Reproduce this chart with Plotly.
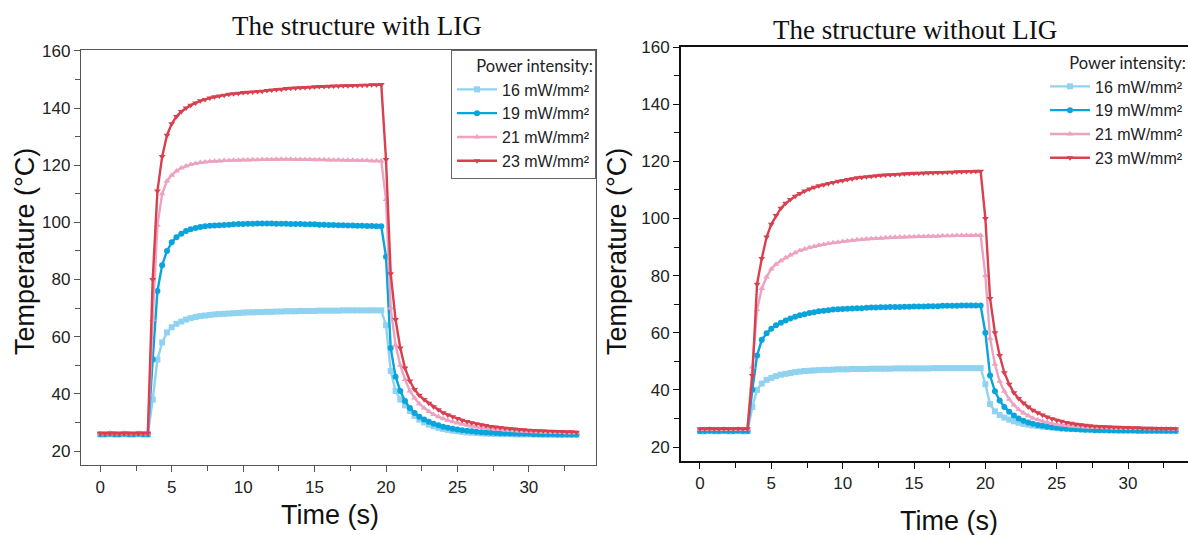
import plotly.graph_objects as go

# Sample instants (s), ~3 Hz thermal camera recording
TIME_S = [
    0.0, 0.33, 0.67, 1.0, 1.33, 1.67, 2.0, 2.33, 2.67, 3.0, 3.33, 3.67,
    4.0, 4.33, 4.67, 5.0, 5.33, 5.67, 6.0, 6.33, 6.67, 7.0, 7.33, 7.67,
    8.0, 8.33, 8.67, 9.0, 9.33, 9.67, 10.0, 10.33, 10.67, 11.0, 11.33, 11.67,
    12.0, 12.33, 12.67, 13.0, 13.33, 13.67, 14.0, 14.33, 14.67, 15.0, 15.33, 15.67,
    16.0, 16.33, 16.67, 17.0, 17.33, 17.67, 18.0, 18.33, 18.67, 19.0, 19.33, 19.67,
    20.0, 20.33, 20.67, 21.0, 21.33, 21.67, 22.0, 22.33, 22.67, 23.0, 23.33, 23.67,
    24.0, 24.33, 24.67, 25.0, 25.33, 25.67, 26.0, 26.33, 26.67, 27.0, 27.33, 27.67,
    28.0, 28.33, 28.67, 29.0, 29.33, 29.67, 30.0, 30.33, 30.67, 31.0, 31.33, 31.67,
    32.0, 32.33, 32.67, 33.0, 33.33,
]

LABELS = ["16 mW/mm²", "19 mW/mm²", "21 mW/mm²", "23 mW/mm²"]

# ---- The structure with LIG: temperature (°C) ----
LIG_16 = [
    25.8, 25.8, 25.9, 25.8, 25.8, 25.9, 25.8, 25.8, 25.9, 25.8, 25.8,
    38, 52, 58, 61.5, 63.3, 64.5, 65.3, 66.0, 66.5, 66.9, 67.2, 67.4, 67.6, 67.8, 67.9,
    68.0, 68.1, 68.2, 68.3, 68.4, 68.5, 68.5, 68.6, 68.6, 68.7, 68.7, 68.8, 68.8, 68.9, 68.9,
    68.9, 69.0, 69.0, 69.0, 69.0, 69.1, 69.1, 69.1, 69.1, 69.1,
    69.2, 69.2, 69.2, 69.2, 69.2, 69.2, 69.2, 69.2, 69.2,
    64, 48, 41, 38, 36, 34, 32.3, 31, 30, 29.2, 28.6, 28.1, 27.7, 27.4, 27.1,
    26.9, 26.7, 26.5, 26.4, 26.3, 26.2, 26.1, 26.0, 26.0, 25.9, 25.9, 25.9, 25.8, 25.8, 25.8,
    25.8, 25.8, 25.8, 25.7, 25.7, 25.7, 25.7, 25.7, 25.7, 25.7, 25.7,
]
LIG_19 = [
    25.9, 25.9, 26.0, 25.9, 25.9, 26.0, 25.9, 25.9, 26.0, 25.9, 25.9,
    52, 76, 85, 90, 93, 94.8, 96, 97, 97.6, 98, 98.4, 98.6, 98.8, 98.9, 99.0,
    99.1, 99.2, 99.3, 99.4, 99.4, 99.5, 99.5, 99.6, 99.6, 99.6, 99.6, 99.5, 99.5, 99.5, 99.4,
    99.4, 99.4, 99.3, 99.3, 99.3, 99.2, 99.2, 99.1, 99.1, 99.0,
    99.0, 98.9, 98.9, 98.8, 98.8, 98.7, 98.7, 98.6, 98.6,
    88, 56, 46, 41, 37.5, 35, 33.3, 32, 31, 30.2, 29.5, 29.0, 28.5, 28.1, 27.8,
    27.5, 27.3, 27.1, 26.9, 26.7, 26.6, 26.5, 26.4, 26.3, 26.2, 26.2, 26.1, 26.1, 26.0, 26.0,
    26.0, 25.9, 25.9, 25.9, 25.9, 25.9, 25.8, 25.8, 25.8, 25.8, 25.8,
]
LIG_21 = [
    26.0, 26.0, 26.1, 26.0, 26.0, 26.1, 26.0, 26.0, 26.1, 26.0, 26.0,
    66, 99, 110, 114.5, 116.5, 118, 119, 119.7, 120.2, 120.6, 120.9, 121.1, 121.3, 121.4, 121.5,
    121.6, 121.6, 121.7, 121.7, 121.8, 121.8, 121.9, 121.9, 122.0, 122.0,
    122.0, 122.1, 122.1, 122.1, 122.1, 122.0, 122.0, 122.0, 122.0, 121.9,
    121.9, 121.9, 121.8, 121.8, 121.8, 121.7, 121.7, 121.7, 121.6, 121.6,
    121.6, 121.5, 121.5, 121.5,
    108, 70, 57, 50, 45, 41, 38.5, 36.5, 35, 33.8, 32.8, 32.0, 31.3, 30.7, 30.2,
    29.8, 29.4, 29.0, 28.7, 28.4, 28.2, 28.0, 27.8, 27.6, 27.5, 27.3, 27.2, 27.1, 27.0, 26.9,
    26.8, 26.7, 26.7, 26.6, 26.6, 26.5, 26.5, 26.5, 26.4, 26.4, 26.4,
]
LIG_23 = [
    26.2, 26.1, 26.2, 26.2, 26.1, 26.2, 26.2, 26.1, 26.2, 26.2, 26.2,
    80, 111, 123, 130.5, 134.5, 137, 138.8, 140, 141, 141.8, 142.5, 143, 143.5, 143.9, 144.2,
    144.5, 144.8, 145.0, 145.2, 145.4, 145.5, 145.6, 145.8, 145.9, 146.1,
    146.3, 146.5, 146.6, 146.8, 146.9, 147.0, 147.1, 147.2, 147.3, 147.4,
    147.5, 147.5, 147.6, 147.7, 147.7, 147.8, 147.8, 147.9, 147.9, 148.0,
    148.0, 148.1, 148.1, 148.2,
    122, 82, 66, 56, 49, 44.5, 41.5, 39.5, 38, 36.7, 35.5, 34.4, 33.4, 32.6, 32.0,
    31.4, 30.8, 30.3, 29.9, 29.5, 29.2, 28.9, 28.6, 28.4, 28.2, 28.0, 27.8, 27.7, 27.5, 27.4,
    27.3, 27.2, 27.1, 27.0, 26.9, 26.9, 26.8, 26.8, 26.7, 26.7, 26.6,
]

# ---- The structure without LIG: temperature (°C) ----
NOLIG_16 = [
    25.5, 25.5, 25.6, 25.5, 25.5, 25.6, 25.5, 25.5, 25.6, 25.5, 25.5,
    34, 40, 42.2, 43.5, 44.2, 44.8, 45.3, 45.6, 45.9, 46.2, 46.4, 46.6, 46.7, 46.8, 46.9,
    47.0, 47.0, 47.1, 47.2, 47.2, 47.2, 47.3, 47.3, 47.3, 47.3,
    47.4, 47.4, 47.4, 47.4, 47.4, 47.5, 47.5, 47.5, 47.5, 47.5,
    47.5, 47.5, 47.5, 47.6, 47.6, 47.6, 47.6, 47.6, 47.6, 47.6,
    47.6, 47.6, 47.6, 47.6,
    42, 35, 32.5, 31.2, 30.3, 29.6, 29.0, 28.5, 28.1, 27.8, 27.5, 27.3, 27.1, 27.0, 26.8,
    26.7, 26.6, 26.5, 26.4, 26.3, 26.2, 26.1, 26.1, 26.0, 26.0, 25.9, 25.9, 25.9, 25.8, 25.8,
    25.8, 25.8, 25.7, 25.7, 25.7, 25.7, 25.7, 25.7, 25.6, 25.6, 25.6,
]
NOLIG_19 = [
    25.6, 25.6, 25.7, 25.6, 25.6, 25.7, 25.6, 25.6, 25.7, 25.6, 25.6,
    40, 52, 57.5, 59.8, 61.4, 62.6, 63.5, 64.3, 65.0, 65.6, 66.1, 66.5, 66.9, 67.2, 67.5,
    67.7, 67.9, 68.1, 68.2, 68.3, 68.4, 68.5, 68.6, 68.6, 68.7,
    68.8, 68.8, 68.9, 68.9, 69.0, 69.0, 69.0, 69.1, 69.1, 69.2,
    69.2, 69.2, 69.3, 69.3, 69.3, 69.4, 69.4, 69.4, 69.4, 69.5,
    69.5, 69.5, 69.5, 69.5,
    60, 45, 39.5, 36.3, 34, 32.3, 31, 30, 29.2, 28.6, 28.1, 27.7, 27.4, 27.1, 26.9,
    26.7, 26.5, 26.4, 26.3, 26.2, 26.1, 26.0, 26.0, 25.9, 25.9, 25.9, 25.8, 25.8, 25.8, 25.8,
    25.8, 25.8, 25.7, 25.7, 25.7, 25.7, 25.7, 25.7, 25.7, 25.7, 25.7,
]
NOLIG_21 = [
    26.2, 26.2, 26.3, 26.2, 26.2, 26.3, 26.2, 26.2, 26.3, 26.2, 26.2,
    48, 68, 75.5, 79.5, 82.3, 84, 85.2, 86.2, 87.2, 88.0, 88.8, 89.3, 89.8, 90.2, 90.6,
    90.9, 91.2, 91.5, 91.7, 91.9, 92.1, 92.3, 92.5, 92.6, 92.8,
    92.9, 93.0, 93.1, 93.2, 93.3, 93.4, 93.5, 93.5, 93.6, 93.6,
    93.7, 93.7, 93.8, 93.8, 93.8, 93.9, 93.9, 93.9, 94.0, 94.0,
    94.0, 94.0, 94.1, 94.1,
    80, 58, 49, 43, 39.5, 36.7, 34.7, 33.1, 31.9, 30.9, 30.1, 29.5, 29.0, 28.6, 28.2,
    27.9, 27.7, 27.5, 27.3, 27.2, 27.1, 27.0, 26.9, 26.8, 26.8, 26.7, 26.7, 26.6, 26.6, 26.6,
    26.5, 26.5, 26.5, 26.5, 26.4, 26.4, 26.4, 26.4, 26.4, 26.3, 26.3,
]
NOLIG_23 = [
    26.4, 26.4, 26.5, 26.4, 26.4, 26.5, 26.4, 26.4, 26.5, 26.4, 26.4,
    45, 77, 86, 93.5, 98, 101, 103.6, 105.3, 106.6, 107.8, 108.7, 109.6, 110.3, 110.9, 111.4,
    111.8, 112.2, 112.6, 113.0, 113.3, 113.6, 113.9, 114.2, 114.4, 114.6,
    114.8, 114.9, 115.1, 115.2, 115.3, 115.4, 115.5, 115.6, 115.7, 115.8,
    115.8, 115.9, 116.0, 116.0, 116.1, 116.1, 116.2, 116.2, 116.3, 116.3,
    116.4, 116.4, 116.5, 116.5,
    100, 72, 60, 52, 46, 42, 39, 37, 35.4, 34.0, 32.9, 32.0, 31.2, 30.5, 29.9,
    29.4, 29.0, 28.6, 28.3, 28.0, 27.8, 27.6, 27.4, 27.3, 27.2, 27.1, 27.0, 26.9, 26.9, 26.8,
    26.8, 26.7, 26.7, 26.6, 26.6, 26.6, 26.5, 26.5, 26.5, 26.5, 26.4,
]

WITH_LIG = [LIG_16, LIG_19, LIG_21, LIG_23]
WITHOUT_LIG = [NOLIG_16, NOLIG_19, NOLIG_21, NOLIG_23]
for s in WITH_LIG + WITHOUT_LIG:
    assert len(s) == len(TIME_S), len(s)

COLORS = ["#8fd3f1", "#0aa4dc", "#eca3c1", "#d8404f"]
SYMBOLS = ["square", "circle", "triangle-up", "triangle-down"]

fig = go.Figure()

for series, xa, ya, leg in [(WITH_LIG, "x", "y", "legend"),
                            (WITHOUT_LIG, "x2", "y2", "legend2")]:
    for name, vals, col, sym in zip(LABELS, series, COLORS, SYMBOLS):
        fig.add_trace(go.Scatter(
            x=TIME_S, y=vals, name=name, mode="lines+markers",
            xaxis=xa, yaxis=ya, legend=leg,
            line=dict(color=col, width=2.4),
            marker=dict(symbol=sym, size=6, color=col, line=dict(width=0)),
        ))

W, H = 1188, 535
TICK_FONT = dict(family="Liberation Sans, Arial, sans-serif", size=17, color="#222")


def xpaper(px):
    return px / W


def ypaper(py):
    return 1 - py / H


def xaxis_cfg(domain, rng, line_color, line_w):
    return dict(
        domain=domain, range=rng, tickvals=[0, 5, 10, 15, 20, 25, 30],
        ticks="outside", ticklen=6, tickwidth=1, tickcolor=line_color,
        minor=dict(ticks="outside", dtick=2.5, tick0=0, ticklen=5, tickcolor=line_color),
        showline=True, linecolor=line_color, linewidth=line_w, mirror=True,
        showgrid=False, zeroline=False, tickfont=TICK_FONT, automargin=False,
    )


def yaxis_cfg(domain, rng, line_color, line_w, mirror):
    return dict(
        domain=domain, range=rng, tickvals=[20, 40, 60, 80, 100, 120, 140, 160],
        ticks="outside", ticklen=6, tickwidth=1, tickcolor=line_color,
        minor=dict(ticks="outside", dtick=10, tick0=0, ticklen=5, tickcolor=line_color),
        showline=True, linecolor=line_color, linewidth=line_w, mirror=mirror,
        showgrid=False, zeroline=False, tickfont=TICK_FONT, automargin=False,
    )


legend_common = dict(
    font=dict(family="Liberation Sans, Arial, sans-serif", size=16, color="#222"),
    title=dict(text="Power intensity:", side="top right",
               font=dict(family="Lato, Open Sans, sans-serif", size=16.5, color="#222")),
    yanchor="top", xanchor="right", itemwidth=40, tracegroupgap=0,
)

fig.update_layout(
    width=W, height=H, margin=dict(l=0, r=0, t=0, b=0, autoexpand=False),
    paper_bgcolor="white", plot_bgcolor="white", showlegend=True,
    xaxis=dict(anchor="y", **xaxis_cfg([xpaper(81), xpaper(596)], [-1.35, 34.7], "#555", 1.3)),
    yaxis=dict(anchor="x", **yaxis_cfg([ypaper(465), ypaper(50)], [15.1, 160.3], "#555", 1.3, True)),
    xaxis2=dict(anchor="y2", **xaxis_cfg([xpaper(681), 1.0], [-1.33, 34.2], "#111", 2)),
    yaxis2=dict(anchor="x2", **yaxis_cfg([ypaper(461), ypaper(47)], [15.1, 160.0], "#111", 2, False)),
    legend=dict(x=xpaper(596), y=ypaper(50), bgcolor="white",
                bordercolor="#666", borderwidth=1, **legend_common),
    legend2=dict(x=1.0, y=ypaper(48), bgcolor="rgba(255,255,255,0)",
                 borderwidth=0, **legend_common),
)

TITLE_FONT = dict(family="Liberation Serif, Times New Roman, serif", size=27, color="#111")
AXIS_TITLE_FONT = dict(family="Liberation Sans, Arial, sans-serif", size=27, color="#111")

annotations = [
    dict(text="The structure with LIG", x=xpaper(357), y=ypaper(26), font=TITLE_FONT),
    dict(text="The structure without LIG", x=xpaper(915), y=ypaper(30), font=TITLE_FONT),
    dict(text="Time (s)", x=xpaper(330), y=ypaper(515), font=AXIS_TITLE_FONT),
    dict(text="Time (s)", x=xpaper(949), y=ypaper(521), font=AXIS_TITLE_FONT),
    dict(text="Temperature (°C)", x=xpaper(25), y=ypaper(252), textangle=-90, font=AXIS_TITLE_FONT),
    dict(text="Temperature (°C)", x=xpaper(617), y=ypaper(252), textangle=-90, font=AXIS_TITLE_FONT),
]
for a in annotations:
    fig.add_annotation(xref="paper", yref="paper", showarrow=False,
                       xanchor="center", yanchor="middle", **a)

fig.write_html("out.html")
